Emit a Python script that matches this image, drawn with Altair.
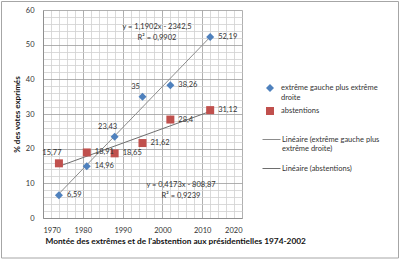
import altair as alt
import pandas as pd

# ---- data ----
years = [1974, 1981, 1988, 1995, 2002, 2012]
extremes = [6.59, 14.96, 23.43, 35, 38.26, 52.19]
abstentions = [15.77, 18.91, 18.65, 21.62, 28.4, 31.12]
series_names = ["extrême gauche plus extrême droite", "abstentions"]
trend_names = ["Linéaire (extrême gauche plus extrême droite)", "Linéaire (abstentions)"]
x_ticks = list(range(1970, 2021, 2))
y_ticks = list(range(0, 61, 2))
x_title = "Montée des extrêmes et de l'abstention aux présidentielles 1974-2002"
y_title = "% des votes exprimés"

rows = []
for yr, e, a in zip(years, extremes, abstentions):
    rows.append({"year": yr, "value": e, "series": series_names[0], "trend": trend_names[0]})
    rows.append({"year": yr, "value": a, "series": series_names[1], "trend": trend_names[1]})
df = pd.DataFrame(rows)

FONT = "Lato"
FS = 7.5
MAJOR = "#9c9c9c"
MINOR = "#d0d0d0"

x_axis = alt.Axis(
    values=x_ticks, format="d",
    labelExpr="datum.value % 10 == 0 ? datum.label : ''",
    labelOverlap=False,
    grid=True,
    gridColor={"condition": {"test": "datum.value % 10 == 0", "value": MAJOR}, "value": MINOR},
    gridWidth=0.8,
    ticks=False, domain=True, domainColor="#868686", domainWidth=0.8,
    labelPadding=8, labelFont=FONT, labelFontSize=FS, labelColor="#333333",
    title=x_title, titleFont=FONT, titleFontSize=8.3, titleFontWeight="bold",
    titleColor="#111111", titleAnchor="start", titleAlign="left",
    titleX=2, titleY=23, titleBaseline="middle",
)
y_axis = alt.Axis(
    values=y_ticks, format="d",
    labelExpr="datum.value % 10 == 0 ? datum.label : ''",
    labelOverlap=False,
    grid=True,
    gridColor={"condition": {"test": "datum.value % 10 == 0", "value": MAJOR}, "value": MINOR},
    gridWidth=0.8,
    ticks=False, domain=True, domainColor="#868686", domainWidth=0.8,
    labelPadding=9, labelFont=FONT, labelFontSize=FS, labelColor="#333333",
    title=y_title, titleFont=FONT, titleFontSize=8, titleFontWeight="bold",
    titleColor="#111111", titlePadding=4,
)
x_scale = alt.Scale(domain=[1970, 2020], nice=False, zero=False)
y_scale = alt.Scale(domain=[0, 60], nice=False)

def xe():
    return alt.X("year:Q", scale=x_scale, axis=x_axis)

def ye():
    return alt.Y("value:Q", scale=y_scale, axis=y_axis)

base = alt.Chart(df)

lines = base.transform_regression(
    "year", "value", groupby=["trend"], extent=[1974, 2012]
).mark_line(strokeWidth=1).encode(
    x=xe(), y=ye(),
    stroke=alt.Stroke(
        "trend:N",
        scale=alt.Scale(domain=trend_names, range=["#8c8c8c", "#6e6e6e"]),
        legend=alt.Legend(
            title=None, orient="none", legendX=219, legendY=120,
            symbolType="stroke", symbolSize=324, symbolStrokeWidth=1,
            labelFont=FONT, labelFontSize=FS, labelColor="#333333", labelOffset=1,
            rowPadding=6, padding=0, labelLimit=200,
            labelExpr="datum.label == '" + trend_names[0] + "' ? ['Linéaire (extrême gauche plus', 'extrême droite)'] : datum.label",
        ),
    ),
)

legend_pts = alt.Legend(
    title=None, orient="none", legendX=223, legendY=74,
    symbolSize=64, symbolStrokeWidth=0,
    labelFont=FONT, labelFontSize=FS, labelColor="#333333", labelOffset=7,
    rowPadding=6, padding=0, labelLimit=200,
    labelExpr="datum.label == '" + series_names[0] + "' ? ['extrême gauche plus extrême', 'droite'] : datum.label",
)

points = base.mark_point(filled=True, size=64, opacity=1).encode(
    x=xe(), y=ye(),
    fill=alt.Fill("series:N", scale=alt.Scale(domain=series_names, range=["#4F81BD", "#C0504D"]), legend=legend_pts),
    shape=alt.Shape("series:N", scale=alt.Scale(domain=series_names, range=["diamond", "square"]), legend=legend_pts),
)

label_expr = "replace(format(datum.value, '~g'), '.', ',')"
above_test = ("(datum.series == '" + series_names[0] + "' && (datum.year == 1988 || datum.year == 1995))"
              " || (datum.series == '" + series_names[1] + "' && datum.year == 1974)")

labels_right = base.transform_filter("!(" + above_test + ")").transform_calculate(
    lab=label_expr
).mark_text(align="left", baseline="middle", dx=8, font=FONT, fontSize=FS, color="#333333").encode(
    x=xe(), y=ye(), text="lab:N"
)
labels_above = base.transform_filter(above_test).transform_calculate(
    lab=label_expr
).mark_text(align="center", baseline="middle", dx=-7, dy=-10, font=FONT, fontSize=FS, color="#333333").encode(
    x=xe(), y=ye(), text="lab:N"
)

def equation(series, px, py):
    return base.transform_filter(
        "datum.series == '" + series + "'"
    ).transform_regression("year", "value", params=True).transform_calculate(
        eq="'y = ' + replace(format(datum.coef[1], '.4f'), '.', ',') + 'x - ' + "
           "replace(format(-datum.coef[0], '.5'), '.', ',') + '\\n' + "
           "'R² = ' + replace(format(datum.rSquared, '.4f'), '.', ',')"
    ).mark_text(
        align="center", baseline="top", lineBreak="\n", lineHeight=11,
        font=FONT, fontSize=FS, color="#333333"
    ).encode(x=alt.value(px), y=alt.value(py), text="eq:N")

eq1 = equation(series_names[0], 114, 13)
eq2 = equation(series_names[1], 138, 171)

frame = alt.Chart(pd.DataFrame({"k": [0]})).mark_rect(
    fill="transparent", stroke="#a6a6a6", strokeWidth=1
).encode(x=alt.value(-41.5), x2=alt.value(355.5), y=alt.value(-8.5), y2=alt.value(248))

chart = alt.layer(lines, points, labels_right, labels_above, eq1, eq2, frame).resolve_scale(
    fill="independent", stroke="independent", shape="independent"
).properties(
    width=199, height=208,
    padding={"left": 43, "top": 10, "right": 158, "bottom": 43},
    autosize="none", background="white",
).configure_view(stroke=None)

chart.save("out.html", embed_options={"renderer": "svg", "actions": False})
